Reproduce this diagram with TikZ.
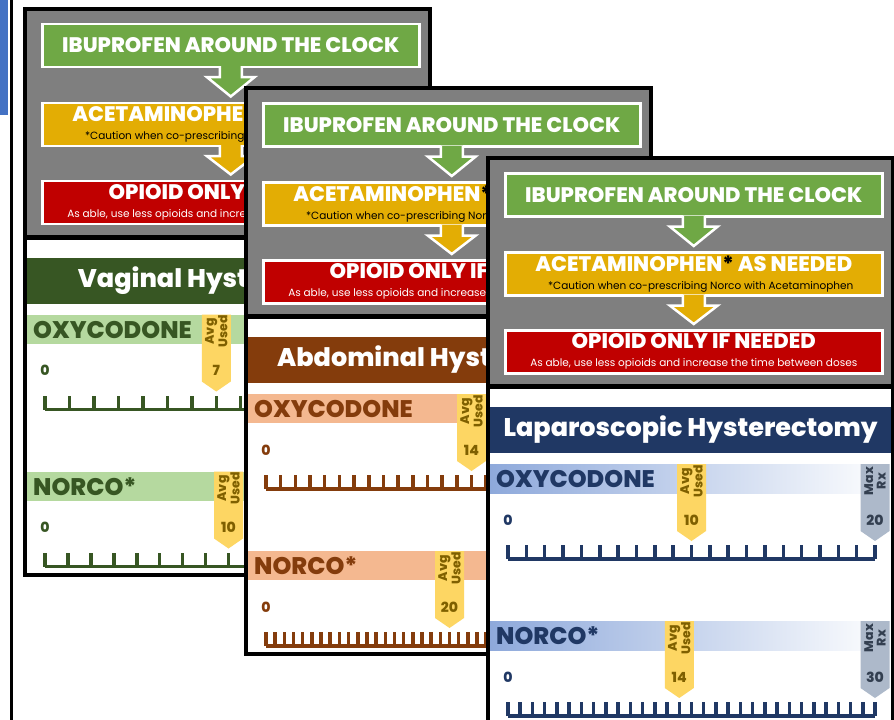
\documentclass[tikz,border=0pt]{standalone}
\usepackage{fontspec}
\setmainfont{Poppins}[BoldFont={Poppins ExtraBold}]
\usetikzlibrary{calc}

\definecolor{panelgray}{HTML}{7F7F7F}
\definecolor{ibugreen}{HTML}{6FA845}
\definecolor{acetyellow}{HTML}{E3AD04}
\definecolor{opired}{HTML}{C00000}
\definecolor{avgyellow}{HTML}{FDD663}
\definecolor{avgtext}{HTML}{7F6000}
\definecolor{maxgray}{HTML}{ADB9CA}
\definecolor{maxtext}{HTML}{333F50}
\definecolor{vagdark}{HTML}{375623}
\definecolor{vaglight}{HTML}{B5D99F}
\definecolor{abddark}{HTML}{843C0C}
\definecolor{abdlight}{HTML}{F4B890}
\definecolor{lapdark}{HTML}{203864}
\definecolor{laplight}{HTML}{8EA9DB}
\definecolor{leftblue}{HTML}{4472C4}
\colorlet{cardcol}{black}

\newcommand{\stepfont}{\bfseries\fontsize{21}{22}\selectfont}
\newcommand{\notefont}{\fontsize{10.5}{10.5}\selectfont}

\tikzset{
  stepbox/.style={draw=white, line width=2.5pt, minimum width=377pt, minimum height=43pt,
    inner sep=0pt, text=white, align=center, anchor=north west},
  headtxt/.style={text=white, font=\bfseries\fontsize{25.5}{26}\selectfont},
  drugtxt/.style={text=cardcol, anchor=west, inner sep=0pt, font=\bfseries\fontsize{24}{24}\selectfont},
  numtxt/.style={inner sep=0pt, font=\bfseries\fontsize{14}{14}\selectfont},
  tagtxt/.style={rotate=90, align=center, inner sep=0pt, font=\bfseries\fontsize{12.5}{12.5}\selectfont},
  rulerline/.style={cardcol, line width=3.5pt},
  cardframe/.style={draw=black, line width=4pt},
  bandfill/.style={fill=cardcol!30},
}

% freccia tra due riquadri
\newcommand{\blockarrow}[3]{%
  \filldraw[fill=#3, draw=white, line width=2.5pt]
    ($(#1.south)+(-11,-2)$) -- ++(0,11) -- ++(-13,0)
    -- ($(#2.north)+(0,-5)$) -- ($(#1.south)+(24,9)$) -- ++(-13,0) -- ++(0,-11);
}

% pannello grigio con i tre passi
\newcommand{\steppanel}[1]{%
  \fill[panelgray] (0,0) rectangle (405,229);
  \node[stepbox, fill=ibugreen] (#1-ibu) at (16,14) {\stepfont IBUPROFEN AROUND THE CLOCK};
  \node[stepbox, fill=acetyellow] (#1-acet) at (16,93)
    {\stepfont ACETAMINOPHEN{\color{black}*} AS NEEDED\\[6pt]
     \notefont\color{black}\hspace*{14pt}*Caution when co-prescribing Norco with Acetaminophen};
  \node[stepbox, fill=opired] (#1-opi) at (16,171)
    {\stepfont OPIOID ONLY IF NEEDED\\[6pt]
     \notefont As able, use less opioids and increase the time between doses};
  \blockarrow{#1-ibu}{#1-acet}{ibugreen}
  \blockarrow{#1-acet}{#1-opi}{acetyellow}
  \draw[line width=5pt] (0,228.5) -- (405,228.5);
}

\newcommand{\cardhead}[2]{%
  \fill[cardcol] (2,249) rectangle (403,295);
  \node[headtxt] (#1-head) at (202.5,272) {#2};
}

% fascia del farmaco e righello
\newcommand{\drugrow}[4]{%
  \fill[bandfill] (2,#2) rectangle (403,#2+29);
  \node[drugtxt] (#1-name) at (8,#2+15) {#3};
  \node[numtxt, text=cardcol] (#1-zero) at (20,#2+56) {0};
  \draw[rulerline] (20,#2+95) -- (387,#2+95);
  \foreach \i in {0,...,#4}
    \draw[rulerline] ({20+367*\i/#4},#2+95) -- ++(0,-14);
}

% etichetta a freccia (Avg Used / Max Rx)
\newcommand{\dosetag}[7]{%
  \fill[#4] (#2-14.5,#3) -- (#2+14.5,#3) -- (#2+14.5,#3+67) -- (#2,#3+77)
    -- (#2-14.5,#3+67) -- cycle;
  \node[tagtxt, text=#5] (#1-lab) at (#2,#3+17) {#6};
  \node[numtxt, text=#5] (#1-val) at (#2,#3+56) {#7};
}

\begin{document}
\begin{tikzpicture}[x=1pt, y=-1pt]
  \useasboundingbox (0,0) rectangle (894,720);
  \clip (0,0) rectangle (894,720);

  % bordo sinistro
  \fill[leftblue] (0,0) rectangle (8,115);
  \draw[line width=3.5pt] (11.5,0) -- (11.5,720);

  % vaginale
  \begin{scope}[shift={(25,8.5)}]
    \colorlet{cardcol}{vagdark}
    \tikzset{bandfill/.style={fill=vaglight}}
    \fill[white] (0,0) rectangle (405,566);
    \steppanel{v}
    \cardhead{v}{Vaginal Hysterectomy}
    \drugrow{v-oxy}{306}{OXYCODONE}{15}
    \dosetag{v-oxy-avg}{20+367*7/15}{306}{avgyellow}{avgtext}{Avg\\Used}{7}
    \drugrow{v-nor}{463}{NORCO*}{16}
    \dosetag{v-nor-avg}{20+367*10/20}{463}{avgyellow}{avgtext}{Avg\\Used}{10}
    \draw[cardframe] (0,0) rectangle (405,566);
  \end{scope}

  % addominale
  \begin{scope}[shift={(246,88)}]
    \colorlet{cardcol}{abddark}
    \tikzset{bandfill/.style={fill=abdlight}}
    \fill[white] (0,0) rectangle (405,566);
    \steppanel{a}
    \cardhead{a}{Abdominal Hysterectomy}
    \drugrow{a-oxy}{306}{OXYCODONE}{25}
    \dosetag{a-oxy-avg}{20+367*14/25}{306}{avgyellow}{avgtext}{Avg\\Used}{14}
    \drugrow{a-nor}{463}{NORCO*}{40}
    \dosetag{a-nor-avg}{20+367*20/40}{463}{avgyellow}{avgtext}{Avg\\Used}{20}
    \draw[cardframe] (0,0) rectangle (405,566);
  \end{scope}

  % laparoscopica
  \begin{scope}[shift={(488,158)}]
    \colorlet{cardcol}{lapdark}
    \tikzset{bandfill/.style={left color=laplight, right color=white}}
    \fill[white] (0,0) rectangle (405,566);
    \steppanel{l}
    \cardhead{l}{Laparoscopic Hysterectomy}
    \drugrow{l-oxy}{306}{OXYCODONE}{20}
    \dosetag{l-oxy-avg}{20+367*10/20}{306}{avgyellow}{avgtext}{Avg\\Used}{10}
    \dosetag{l-oxy-max}{387}{306}{maxgray}{maxtext}{Max\\Rx}{20}
    \drugrow{l-nor}{463}{NORCO*}{30}
    \dosetag{l-nor-avg}{20+367*14/30}{463}{avgyellow}{avgtext}{Avg\\Used}{14}
    \dosetag{l-nor-max}{387}{463}{maxgray}{maxtext}{Max\\Rx}{30}
    \draw[cardframe] (0,0) rectangle (405,566);
  \end{scope}
\end{tikzpicture}
\end{document}
